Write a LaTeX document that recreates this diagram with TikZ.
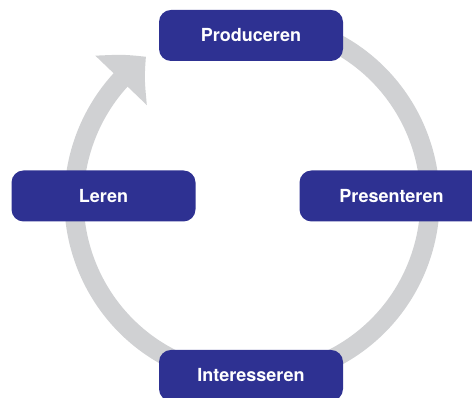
\documentclass[tikz,border=0pt]{standalone}
\usepackage{fontspec}
\setmainfont{TeX Gyre Heros}
\usetikzlibrary{arrows.meta, bending}

\definecolor{stageblue}{RGB}{46,49,146}
\definecolor{ringgray}{RGB}{208,209,211}

\tikzset{
	stage/.style={rounded corners=9pt, fill=stageblue, text=white,
		font=\bfseries\fontsize{13.5}{16}\selectfont,
		minimum width=138pt, minimum height=38.25pt, inner sep=0pt},
	ring/.style={line width=14.5pt, draw=ringgray,
		-{Triangle[width=51.75pt, length=25.9pt, bend]}}
}

\begin{document}
\begin{tikzpicture}[x=0.75pt, y=0.75pt]
	\def\W{472}
	\def\H{398}
	\def\R{178}

	%画布范围
	\path [use as bounding box, clip] (0,0) rectangle (\W,\H);

	%绘制圆环
	\coordinate (O) at (252,198);
	\draw [ring] ([shift={(70:\R)}]O) arc [start angle=70, end angle=-233.5, radius=\R];

	%四个阶段
	\node [stage] (produceren)   at (251,362.5) {Produceren};
	\node [stage] (leren)        at (103.5,202) {Leren};
	\node [stage] (presenteren)  at (391.5,202) {Presenteren};
	\node [stage] (interesseren) at (251,22.5)  {Interesseren};

\end{tikzpicture}
\end{document}
